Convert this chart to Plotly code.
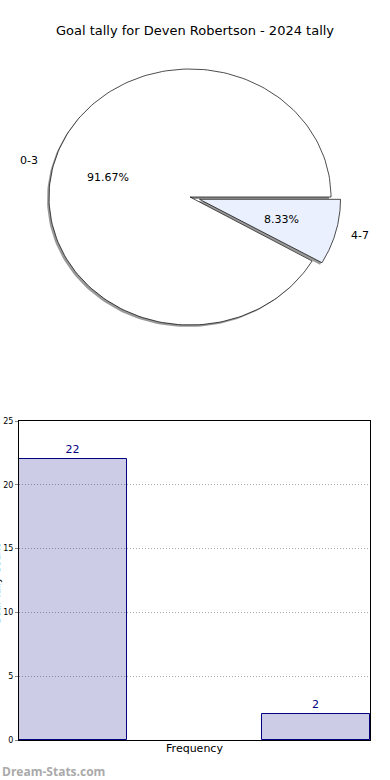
import numpy as np
import plotly.graph_objects as go

# ---- data ----
categories = ["0-3", "4-7"]
counts = [22, 2]
bar_positions = [0, 2.25]
pie_colors = ["#ffffff", "#eaf0fd"]
explode = [0.0, 0.07]
title_text = "Goal tally for Deven Robertson - 2024 tally"

W, H = 390, 780
fig = go.Figure()

# ---- pie drawn as elliptical wedges (matplotlib-like) ----
total = sum(counts)
fracs = [c / total for c in counts]
sx, sy = 2 / 141, 2 / 128  # shadow offset in data units

start = 0.0
wedges = []
for frac, ex in zip(fracs, explode):
    t1 = start
    t2 = start + frac * 2 * np.pi
    mid = (t1 + t2) / 2
    cx, cy = ex * np.cos(mid), ex * np.sin(mid)
    th = np.linspace(t1, t2, 200)
    xs = np.concatenate([[cx], cx + np.cos(th), [cx]])
    ys = np.concatenate([[cy], cy + np.sin(th), [cy]])
    wedges.append((xs, ys, cx, cy, mid, frac))
    start = t2

for xs, ys, *_ in wedges:
    fig.add_trace(go.Scatter(x=xs - sx, y=ys - sy, mode="lines", fill="toself",
                             fillcolor="rgba(0,0,0,0.4)", line=dict(width=0),
                             xaxis="x2", yaxis="y2", hoverinfo="skip", showlegend=False))
for (xs, ys, cx, cy, mid, frac), col in zip(wedges, pie_colors):
    fig.add_trace(go.Scatter(x=xs, y=ys, mode="lines", fill="toself", fillcolor=col,
                             line=dict(color="black", width=0.7),
                             xaxis="x2", yaxis="y2", hoverinfo="skip", showlegend=False))

for (xs, ys, cx, cy, mid, frac), lab in zip(wedges, categories):
    lx, ly = cx + 1.1 * np.cos(mid), cy + 1.1 * np.sin(mid)
    fig.add_annotation(x=lx, y=ly, xref="x2", yref="y2", text=lab, showarrow=False,
                       xanchor="left" if np.cos(mid) > 0 else "right",
                       font=dict(family="DejaVu Sans", size=11, color="black"))
    px, py = cx + 0.6 * np.cos(mid), cy + 0.6 * np.sin(mid)
    fig.add_annotation(x=px, y=py, xref="x2", yref="y2", text=f"{frac*100:.2f}%",
                       showarrow=False, font=dict(family="DejaVu Sans", size=11, color="black"))

# ---- bar chart ----
fig.add_trace(go.Bar(x=bar_positions, y=counts, width=1.0,
                     marker=dict(color="rgba(0,0,128,0.2)", line=dict(color="#000080", width=1)),
                     text=[str(c) for c in counts], textposition="outside",
                     textfont=dict(family="DejaVu Sans", size=11, color="#000080"),
                     cliponaxis=False, showlegend=False, hoverinfo="skip"))

fig.update_layout(
    width=W, height=H,
    margin=dict(l=0, r=0, t=0, b=0, autoexpand=False),
    paper_bgcolor="white", plot_bgcolor="white",
    title=dict(text=title_text, x=195 / W, xanchor="center", y=1 - 30 / H, yanchor="middle",
               font=dict(family="DejaVu Sans", size=13, color="black")),
    xaxis2=dict(domain=[0, 1], range=[-190 / 141, 200 / 141], visible=False, anchor="y2"),
    yaxis2=dict(domain=[0.5, 1], range=[-193 / 128, 197 / 128], visible=False, anchor="x2"),
    xaxis=dict(domain=[19 / W, 370 / W], range=[-0.5, 2.75], showticklabels=False, ticks="",
               showgrid=False, showline=True, linecolor="black", linewidth=1, mirror=True,
               zeroline=False, anchor="y", automargin=False,
               title=dict(text="Frequency", standoff=4,
                          font=dict(family="DejaVu Sans", size=11, color="black"))),
    yaxis=dict(domain=[1 - 740 / H, 1 - 421 / H], range=[0, 25], dtick=5,
               showline=True, linecolor="black", linewidth=1, mirror=True,
               ticks="outside", ticklen=3, tickcolor="#888", automargin=False,
               tickfont=dict(family="DejaVu Sans", size=8, color="black"),
               showgrid=True, gridcolor="#aaaaaa", griddash="1px,2px", gridwidth=1,
               zeroline=False, anchor="x"),
    bargap=0,
)

fig.add_annotation(x=-4 / W, y=1 - 585 / H, xref="paper", yref="paper", text="Goal Tally Count",
                   textangle=-90, showarrow=False, xanchor="center", yanchor="middle",
                   font=dict(family="DejaVu Sans", size=10, color="black"))
fig.add_annotation(x=0, y=1 - 771 / H, xref="paper", yref="paper", text="<b>Dream-Stats.com</b>",
                   showarrow=False, xanchor="left", yanchor="middle",
                   font=dict(family="Open Sans", size=12, color="#aaaaaa"))

fig.write_html("out.html")
